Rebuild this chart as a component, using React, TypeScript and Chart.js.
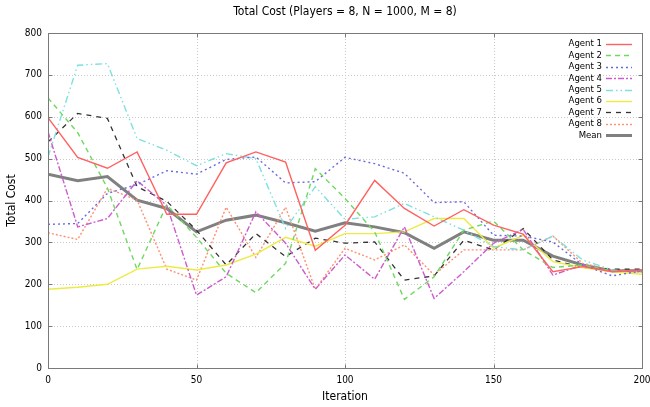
import React, { useEffect, useRef } from "react";
import { Chart, registerables } from "chart.js";

Chart.register(...registerables);

const iterations = [0, 10, 20, 30, 40, 50, 60, 70, 80, 90, 100, 110, 120, 130, 140, 150, 160, 170, 180, 190, 200];
const agent1 = [598, 503, 477, 516, 367, 367, 490, 516, 492, 281, 341, 448, 381, 339, 378, 341, 320, 230, 242, 230, 234];
const agent2 = [645, 562, 430, 235, 390, 312, 226, 180, 250, 476, 405, 325, 164, 218, 329, 351, 282, 240, 246, 232, 232];
const agent3 = [343, 345, 417, 438, 471, 463, 498, 504, 442, 445, 503, 488, 465, 395, 397, 317, 315, 301, 246, 220, 232];
const agent4 = [564, 337, 357, 447, 388, 174, 218, 373, 298, 188, 270, 212, 337, 166, 230, 298, 331, 222, 246, 232, 230];
const agent5 = [504, 723, 727, 548, 520, 483, 512, 500, 333, 433, 355, 361, 393, 361, 329, 290, 282, 315, 258, 234, 230];
const agent6 = [188, 193, 200, 236, 243, 234, 246, 272, 312, 291, 321, 321, 325, 357, 357, 286, 317, 254, 240, 230, 224];
const agent7 = [540, 608, 596, 433, 398, 329, 246, 321, 266, 310, 298, 301, 210, 220, 305, 282, 333, 258, 240, 236, 236];
const agent8 = [323, 307, 429, 401, 236, 210, 384, 264, 384, 188, 286, 258, 294, 222, 282, 282, 282, 315, 250, 234, 230];
const meanCost = [463, 447, 457, 401, 381, 325, 353, 365, 347, 327, 347, 337, 323, 286, 325, 305, 305, 267, 246, 232, 232];

const seriesLabels = ["Agent 1", "Agent 2", "Agent 3", "Agent 4", "Agent 5", "Agent 6", "Agent 7", "Agent 8", "Mean"];
const seriesValues = [agent1, agent2, agent3, agent4, agent5, agent6, agent7, agent8, meanCost];
const seriesColors = ["#ff6060", "#6fd860", "#6a6ae0", "#cc5ccc", "#7ee0e0", "#eeea44", "#333333", "#ff9070", "#808080"];
const seriesDashes = [[], [5, 4], [2, 3], [6, 2, 2, 2], [7, 3, 1.5, 3, 1.5, 3], [], [5, 5], [2, 2], []];
const seriesWidths = [1.4, 1.4, 1.4, 1.4, 1.4, 1.4, 1.3, 1.4, 3];

const titleText = "Total Cost (Players = 8, N = 1000, M = 8)";
const xTitle = "Iteration";
const yTitle = "Total Cost";
const FONT = "'DejaVu Sans Condensed', 'DejaVu Sans', sans-serif";

const framePlugin = {
  id: "gnuplotFrame",
  beforeDatasetsDraw(chart: any) {
    const { ctx, chartArea: a, scales } = chart;
    const xs = scales.x, ys = scales.y;
    ctx.save();
    ctx.strokeStyle = "#c8c8c8";
    ctx.lineWidth = 1;
    ctx.setLineDash([1, 2]);
    xs.ticks.forEach((t: any) => {
      const px = Math.round(xs.getPixelForValue(t.value)) + 0.5;
      if (px <= a.left + 1 || px >= a.right - 1) return;
      ctx.beginPath(); ctx.moveTo(px, a.top); ctx.lineTo(px, a.bottom); ctx.stroke();
    });
    ys.ticks.forEach((t: any) => {
      const py = Math.round(ys.getPixelForValue(t.value)) + 0.5;
      if (py <= a.top + 1 || py >= a.bottom - 1) return;
      ctx.beginPath(); ctx.moveTo(a.left, py); ctx.lineTo(a.right, py); ctx.stroke();
    });
    ctx.restore();
  },
  afterDatasetsDraw(chart: any) {
    const { ctx, chartArea: a, scales } = chart;
    const xs = scales.x, ys = scales.y;
    ctx.save();
    ctx.strokeStyle = "#7a7a7a";
    ctx.lineWidth = 1;
    ctx.setLineDash([]);
    const L = Math.round(a.left) + 0.5, R = Math.round(a.right) + 0.5;
    const T = Math.round(a.top) + 0.5, B = Math.round(a.bottom) + 0.5;
    ctx.strokeRect(L, T, R - L, B - T);
    const tl = 4;
    ctx.beginPath();
    xs.ticks.forEach((t: any) => {
      const px = Math.round(xs.getPixelForValue(t.value)) + 0.5;
      ctx.moveTo(px, B); ctx.lineTo(px, B - tl);
      ctx.moveTo(px, T); ctx.lineTo(px, T + tl);
    });
    ys.ticks.forEach((t: any) => {
      const py = Math.round(ys.getPixelForValue(t.value)) + 0.5;
      ctx.moveTo(L, py); ctx.lineTo(L + tl, py);
      ctx.moveTo(R, py); ctx.lineTo(R - tl, py);
    });
    ctx.stroke();

    // titles
    ctx.fillStyle = "#000";
    ctx.font = `12px ${FONT}`;
    ctx.textAlign = "center";
    ctx.textBaseline = "middle";
    ctx.fillText(titleText, (a.left + a.right) / 2, 12);
    ctx.fillText(xTitle, (a.left + a.right) / 2, 397);
    ctx.save();
    ctx.translate(12, (a.top + a.bottom) / 2);
    ctx.rotate(-Math.PI / 2);
    ctx.fillText(yTitle, 0, 0);
    ctx.restore();

    // legend
    ctx.font = `9.5px ${FONT}`;
    ctx.textAlign = "right";
    ctx.textBaseline = "middle";
    chart.data.datasets.forEach((ds: any, i: number) => {
      const y = 44 + i * 11.4;
      ctx.fillStyle = "#000";
      ctx.fillText(ds.label, 602, y);
      ctx.strokeStyle = ds.borderColor;
      ctx.lineWidth = ds.borderWidth;
      ctx.setLineDash(ds.borderDash || []);
      ctx.beginPath();
      ctx.moveTo(606, Math.round(y) + 0.5);
      ctx.lineTo(632, Math.round(y) + 0.5);
      ctx.stroke();
    });
    ctx.restore();
  },
};

export default function App() {
  const ref = useRef<HTMLCanvasElement | null>(null);
  useEffect(() => {
    document.body.style.margin = "0";
    const canvas = ref.current;
    if (!canvas) return;
    const datasets = seriesLabels.map((label, i) => ({
      label,
      data: iterations.map((x, j) => ({ x, y: seriesValues[i][j] })),
      borderColor: seriesColors[i],
      backgroundColor: seriesColors[i],
      borderWidth: seriesWidths[i],
      borderDash: seriesDashes[i],
      pointRadius: 0,
      tension: 0,
      fill: false,
    }));
    const chart = new Chart(canvas, {
      type: "line",
      data: { datasets },
      options: {
        responsive: false,
        animation: false,
        layout: { padding: { top: 33, right: 8, left: 0, bottom: 0 } },
        plugins: { legend: { display: false }, title: { display: false }, tooltip: { enabled: false } },
        scales: {
          x: {
            type: "linear",
            min: 0,
            max: 200,
            grid: { display: false, drawTicks: false },
            border: { display: false },
            ticks: { stepSize: 50, padding: 6, color: "#000", font: { family: FONT, size: 10 }, maxRotation: 0 },
            afterFit: (s: any) => { s.height = 39; s.paddingLeft = 0; s.paddingRight = 0; },
          },
          y: {
            min: 0,
            max: 800,
            grid: { display: false, drawTicks: false },
            border: { display: false },
            ticks: { stepSize: 100, padding: 6, color: "#000", font: { family: FONT, size: 10 } },
            afterFit: (s: any) => { s.width = 48; s.paddingTop = 0; s.paddingBottom = 0; },
          },
        },
      },
      plugins: [framePlugin],
    });
    return () => chart.destroy();
  }, []);
  return (
    <div style={{ position: "fixed", left: 0, top: 0, width: 650, height: 407, background: "#fff" }}>
      <canvas ref={ref} width={650} height={407} />
    </div>
  );
}
